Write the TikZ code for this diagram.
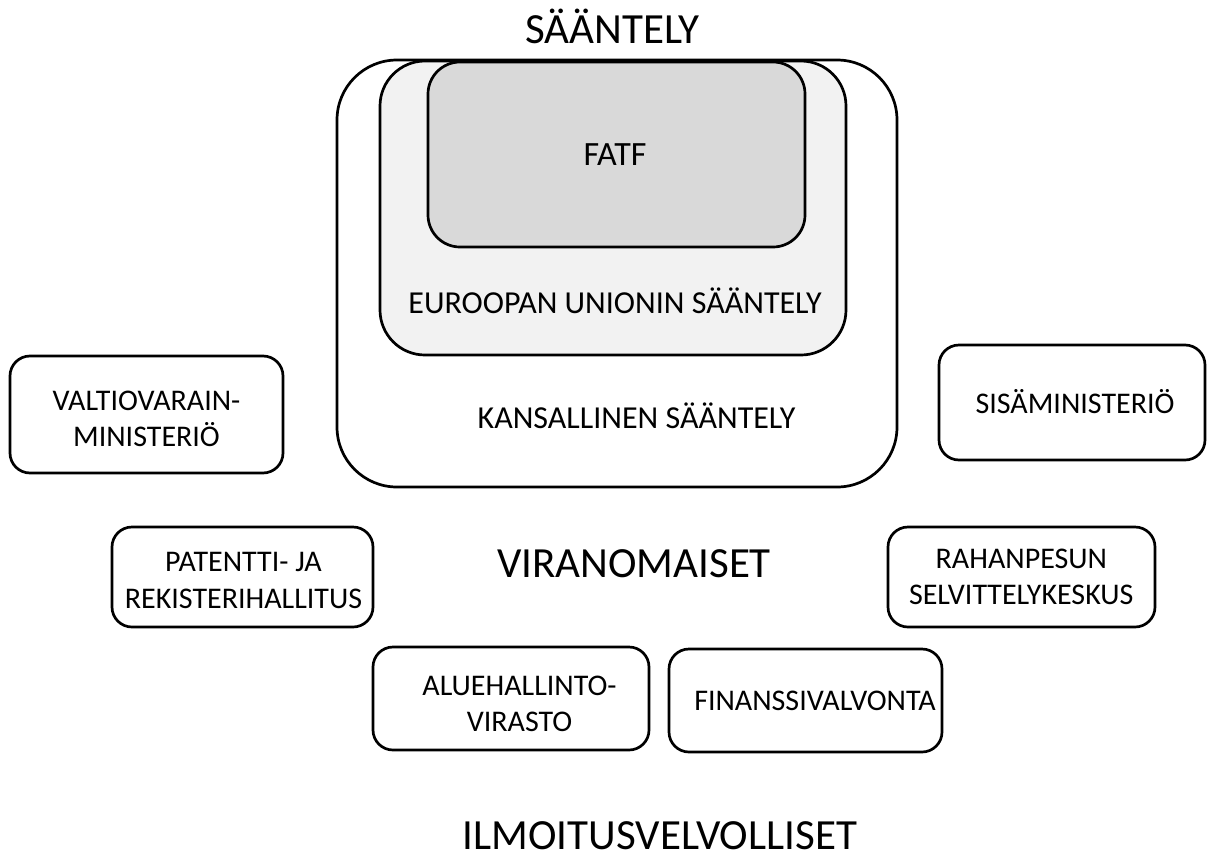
\documentclass[tikz,border=0pt]{standalone}
\usepackage{fontspec}
\setmainfont{Carlito}
\definecolor{fatfgray}{HTML}{D9D9D9}
\definecolor{eugray}{HTML}{F2F2F2}
\tikzset{
  frame/.style={draw=black, line width=2.7pt, inner sep=0pt, outer sep=0pt},
  smallbox/.style={frame, fill=white, rounded corners=20pt},
  boxtext/.style={align=center, inner sep=0pt, font=\fontsize{30}{36.5}\selectfont},
  midtext/.style={inner sep=0pt, font=\fontsize{32}{38}\selectfont, anchor=base},
  bigtext/.style={inner sep=0pt, font=\fontsize{43}{50}\selectfont, anchor=base},
}
\begin{document}
\begin{tikzpicture}[x=1pt,y=-1pt]
\useasboundingbox (0,0) rectangle (1207,854);
% nested regulation boxes
\node[frame, fill=white, rounded corners=60pt, minimum width=560pt, minimum height=427pt] (kans) at (617,273.5) {};
\node[frame, fill=eugray, rounded corners=45pt, minimum width=466pt, minimum height=294pt] (eu) at (613,208) {};
\node[frame, fill=fatfgray, rounded corners=32pt, minimum width=377pt, minimum height=185pt] (fatf) at (616.5,154.5) {};
\node[bigtext] (saantely) at (612.5,43) {SÄÄNTELY};
\node[inner sep=0pt, font=\fontsize{34}{40}\selectfont, anchor=base] (fatft) at (615,165) {FATF};
\node[midtext] (eut) at (615,313) {EUROOPAN UNIONIN SÄÄNTELY};
\node[midtext] (kanst) at (636.5,428) {KANSALLINEN SÄÄNTELY};
% authorities
\node[smallbox, minimum width=273pt, minimum height=117pt] (vm) at (146.5,414.5) {};
\node[smallbox, minimum width=266pt, minimum height=115pt] (sm) at (1072,402.5) {};
\node[smallbox, minimum width=261pt, minimum height=100pt] (prh) at (242.5,577) {};
\node[smallbox, minimum width=267pt, minimum height=100pt] (rsk) at (1021.5,577) {};
\node[smallbox, minimum width=276pt, minimum height=103pt] (avi) at (511,698.5) {};
\node[smallbox, minimum width=273pt, minimum height=103pt] (fiva) at (805.5,700.5) {};
\node[boxtext] (vmt) at (146.5,418.8) {VALTIOVARAIN-\\MINISTERIÖ};
\node[boxtext, anchor=base] (smt) at (1075,413) {SISÄMINISTERIÖ};
\node[boxtext] (prht) at (243.5,580.3) {PATENTTI- JA\\REKISTERIHALLITUS};
\node[boxtext] (rskt) at (1021.3,576.8) {RAHANPESUN\\SELVITTELYKESKUS};
\node[boxtext] (avit) at (519.5,704) {ALUEHALLINTO-\\VIRASTO};
\node[boxtext, anchor=base] (fivat) at (815,710) {FINANSSIVALVONTA};
\node[bigtext] (viranom) at (634,577) {VIRANOMAISET};
\node[bigtext] (ilmo) at (660,849) {ILMOITUSVELVOLLISET};
\end{tikzpicture}
\end{document}
